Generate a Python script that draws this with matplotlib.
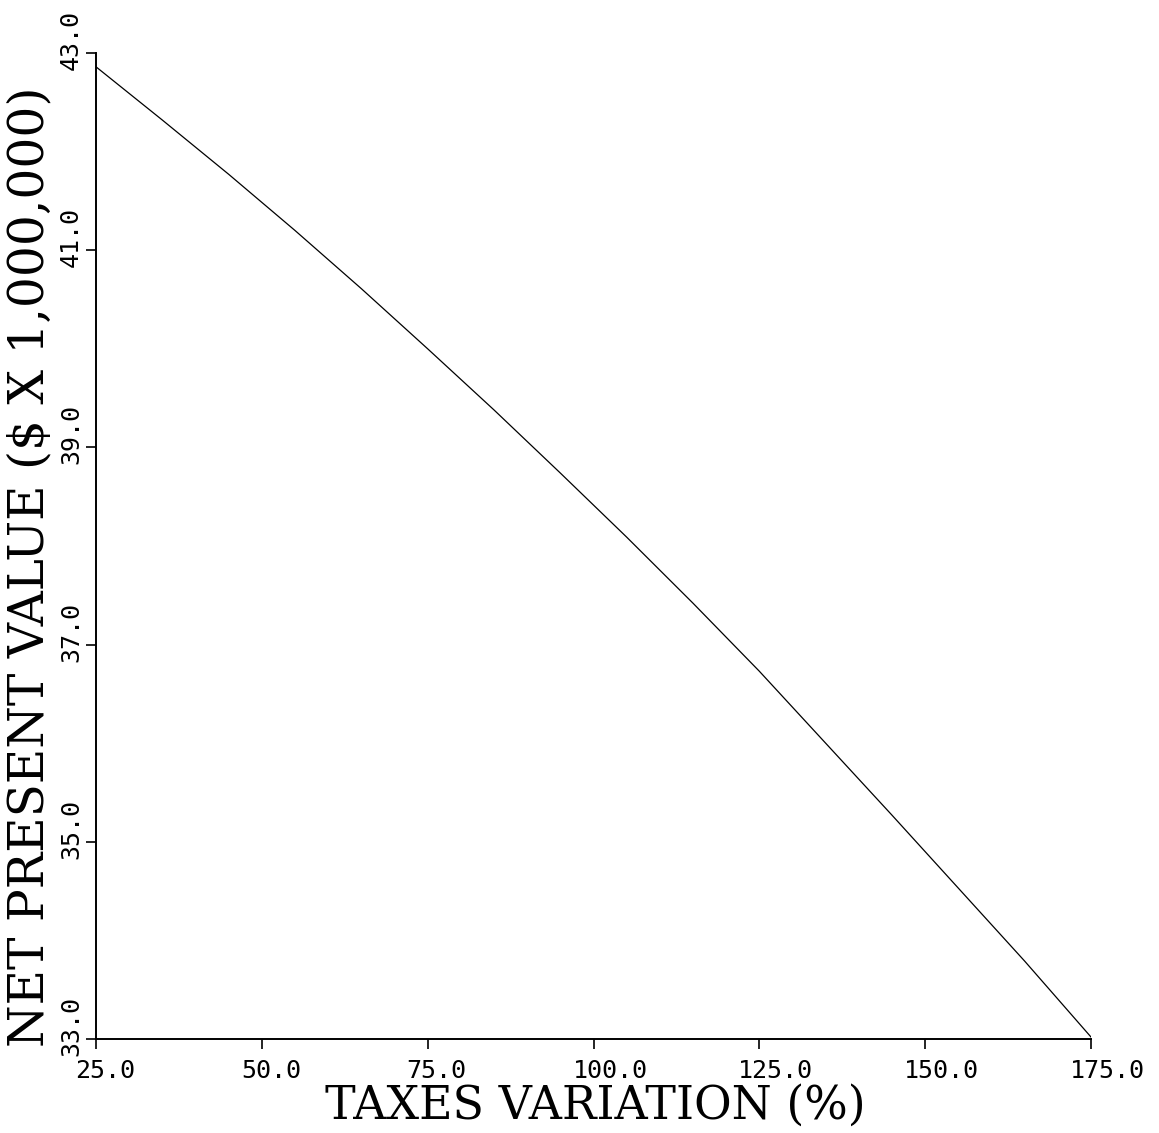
import matplotlib
matplotlib.use("Agg")
import matplotlib.pyplot as plt
import matplotlib.transforms as mtrans

# values
taxes_pct = [25.0, 35.0, 45.0, 55.0, 65.0, 75.0, 85.0, 95.0, 105.0, 115.0,
             125.0, 135.0, 145.0, 155.0, 165.0, 175.0]
npv = [42.86, 42.32, 41.77, 41.20, 40.61, 40.00, 39.38, 38.74, 38.09, 37.42,
       36.73, 36.00, 35.27, 34.53, 33.79, 33.02]

x_ticks = [25.0, 50.0, 75.0, 100.0, 125.0, 150.0, 175.0]
y_ticks = [33.0, 35.0, 37.0, 39.0, 41.0, 43.0]

W, H = 1159, 1133
fig = plt.figure(figsize=(W / 100, H / 100), dpi=100)
ax = fig.add_axes([96 / W, (H - 1039) / H, (1091 - 96) / W, (1039 - 53) / H])

ax.plot(taxes_pct, npv, color="black", linewidth=0.9)

ax.set_xlim(25, 175)
ax.set_ylim(33, 43)
ax.spines["top"].set_visible(False)
ax.spines["right"].set_visible(False)
ax.spines["left"].set_linewidth(1.4)
ax.spines["bottom"].set_linewidth(1.4)

ax.set_xticks(x_ticks)
ax.set_yticks(y_ticks)
ax.tick_params(direction="out", length=7, width=1.2, colors="black",
               labelbottom=False, labelleft=False)

# tick labels placed by hand, offset like the old plotter output
tick_font = dict(family="DejaVu Sans Mono", size=18)
xform = ax.get_xaxis_transform() + mtrans.ScaledTranslation(-0.21, -0.20, fig.dpi_scale_trans)
for v in x_ticks:
    ax.text(v, 0, "%.1f" % v, transform=xform, ha="left", va="top", clip_on=False, **tick_font)
yform = ax.get_yaxis_transform() + mtrans.ScaledTranslation(-0.13, -0.17, fig.dpi_scale_trans)
for v in y_ticks:
    ax.text(0, v, "%.1f" % v, transform=yform, ha="right", va="bottom", rotation=90,
            clip_on=False, **tick_font)

fig.text(595 / W, 1 - 1106 / H, "TAXES VARIATION (%)", family="DejaVu Serif",
         fontsize=33, ha="center", va="center")
fig.text(30 / W, 1 - 567 / H, "NET PRESENT VALUE ($ X 1,000,000)", family="DejaVu Serif",
         fontsize=35, ha="center", va="center", rotation=90)

fig.savefig("out.png", dpi=100, facecolor="white")
